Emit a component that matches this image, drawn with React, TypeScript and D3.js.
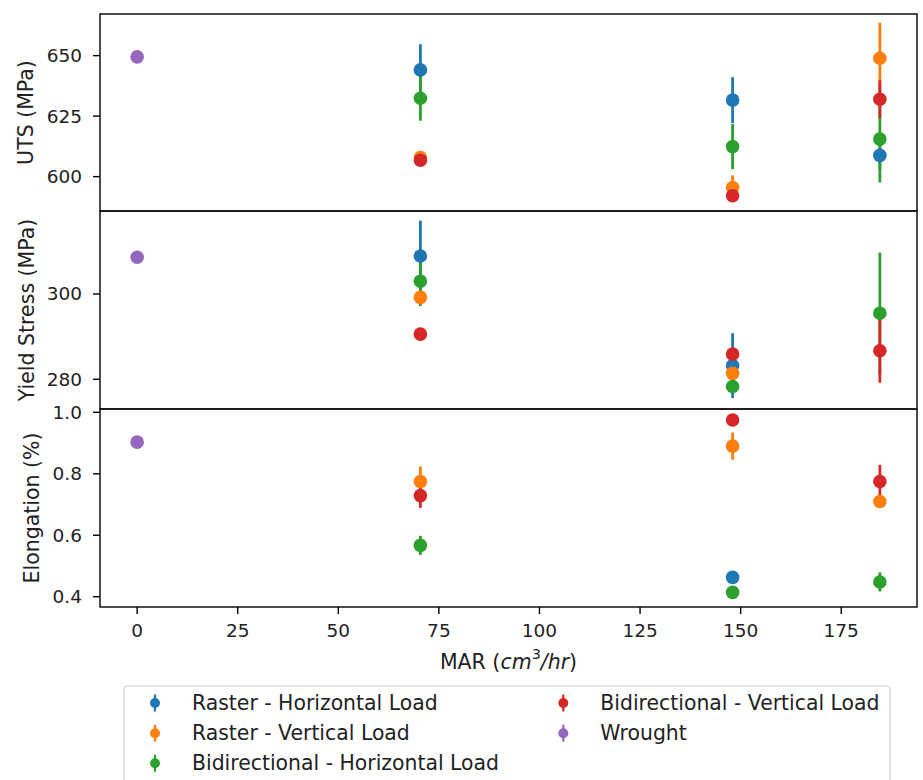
import React from 'react';
import * as d3 from 'd3';

// ---------- data ----------
const seriesNames = [
  'Raster - Horizontal Load',
  'Raster - Vertical Load',
  'Bidirectional - Horizontal Load',
  'Bidirectional - Vertical Load',
  'Wrought',
];
const seriesColors = ['#1f77b4', '#ff7f0e', '#2ca02c', '#d62728', '#9467bd'];

const marX = [70.4, 148, 184.6];
const wroughtX = [0];

// UTS (MPa)
const utsRH = [644.1, 631.6, 608.8];
const utsRHErr = [10.6, 9.5, 6];
const utsRV = [607.9, 595.5, 648.9];
const utsRVErr = [1, 5, 14.7];
const utsBH = [632.4, 612.4, 615.5];
const utsBHErr = [9.3, 9.3, 17.9];
const utsBV = [606.8, 592.1, 632.0];
const utsBVErr = [1, 1, 7.8];
const utsW = [649.5];

// Yield stress (MPa)
const ysRH = [308.9, 283.2, 0];
const ysRHErr = [8.3, 7.6, 0];
const ysRV = [299.2, 281.4, 0];
const ysRVErr = [0.8, 1, 0];
const ysBH = [303.0, 278.3, 295.5];
const ysBHErr = [5.8, 1.5, 14.2];
const ysBV = [290.6, 285.9, 286.7];
const ysBVErr = [0.5, 0.8, 7.5];
const ysW = [308.6];

// Elongation (%)
const elRH = [0, 0.463, 0];
const elRHErr = [0, 0.01, 0];
const elRV = [0.775, 0.890, 0.710];
const elRVErr = [0.049, 0.044, 0.01];
const elBH = [0.567, 0.414, 0.448];
const elBHErr = [0.031, 0.01, 0.031];
const elBV = [0.729, 0.975, 0.775];
const elBVErr = [0.04, 0.01, 0.054];
const elW = [0.903];

const xTicks = [0, 25, 50, 75, 100, 125, 150, 175];
const utsTicks = [600, 625, 650];
const ysTicks = [280, 300];
const elTicks = [0.4, 0.6, 0.8, 1.0];
const elTickLabels = ['0.4', '0.6', '0.8', '1.0'];

// ---------- layout ----------
const W = 923;
const H = 780;
const left = 100;
const right = 917;
const FONT = 'DejaVu Sans, sans-serif';
const TICK_FS = 18.5;
const LABEL_FS = 20.5;
const LEG_FS = 20.4;

type Pt = { x: number; y: number; e: number };
const pts = (xs: number[], ys: number[], es?: number[]): Pt[] =>
  xs.map((x, i) => ({ x, y: ys[i], e: es ? es[i] : 0 })).filter((p) => p.y !== 0);

const xScale = d3.scaleLinear().domain([-9.23, 193.83]).range([left, right]);

interface PanelDef {
  top: number;
  bottom: number;
  domain: [number, number];
  ticks: number[];
  tickLabels: string[];
  label: string;
  labelX: number;
  series: Pt[][];
}

const panels: PanelDef[] = [
  {
    top: 14,
    bottom: 211,
    domain: [585.8, 667.2],
    ticks: utsTicks,
    tickLabels: utsTicks.map(String),
    label: 'UTS (MPa)',
    labelX: 26,
    series: [
      pts(marX, utsRH, utsRHErr),
      pts(marX, utsRV, utsRVErr),
      pts(marX, utsBH, utsBHErr),
      pts(marX, utsBV, utsBVErr),
      pts(wroughtX, utsW),
    ],
  },
  {
    top: 211,
    bottom: 409,
    domain: [273.04, 319.45],
    ticks: ysTicks,
    tickLabels: ysTicks.map(String),
    label: 'Yield Stress (MPa)',
    labelX: 26.5,
    series: [
      pts(marX, ysRH, ysRHErr),
      pts(marX, ysRV, ysRVErr),
      pts(marX, ysBH, ysBHErr),
      pts(marX, ysBV, ysBVErr),
      pts(wroughtX, ysW),
    ],
  },
  {
    top: 409,
    bottom: 607,
    domain: [0.3665, 1.0108],
    ticks: elTicks,
    tickLabels: elTickLabels,
    label: 'Elongation (%)',
    labelX: 32,
    series: [
      pts(marX, elRH, elRHErr),
      pts(marX, elRV, elRVErr),
      pts(marX, elBH, elBHErr),
      pts(marX, elBV, elBVErr),
      pts(wroughtX, elW),
    ],
  },
];

function Panel({ p, idx }: { p: PanelDef; idx: number }) {
  const y = d3.scaleLinear().domain(p.domain).range([p.bottom, p.top]);
  const cy = (p.top + p.bottom) / 2;
  return (
    <g>
      <defs>
        <clipPath id={`clip${idx}`}>
          <rect x={left} y={p.top} width={right - left} height={p.bottom - p.top} />
        </clipPath>
      </defs>
      <g clipPath={`url(#clip${idx})`}>
        {p.series.map((s, si) =>
          s.map((d, di) =>
            d.e > 0 ? (
              <line
                key={`e${si}-${di}`}
                x1={xScale(d.x)}
                x2={xScale(d.x)}
                y1={y(d.y - d.e)}
                y2={y(d.y + d.e)}
                stroke={seriesColors[si]}
                strokeWidth={2.8}
              />
            ) : null
          )
        )}
        {p.series.map((s, si) =>
          s.map((d, di) => (
            <circle
              key={`m${si}-${di}`}
              cx={xScale(d.x)}
              cy={y(d.y)}
              r={6.8}
              fill={seriesColors[si]}
            />
          ))
        )}
      </g>
      {p.ticks.map((t, i) => (
        <g key={`t${i}`}>
          <line x1={left - 7} x2={left} y1={y(t)} y2={y(t)} stroke="#000" strokeWidth={1.4} />
          <text
            x={82}
            y={y(t)}
            textAnchor="end"
            dominantBaseline="central"
            fontFamily={FONT}
            fontSize={TICK_FS}
            fill="#222"
          >
            {p.tickLabels[i]}
          </text>
        </g>
      ))}
      <text
        transform={`translate(${p.labelX},${cy}) rotate(-90)`}
        textAnchor="middle"
        dominantBaseline="central"
        fontFamily={FONT}
        fontSize={LABEL_FS}
        fill="#222"
      >
        {p.label}
      </text>
      <rect
        x={left}
        y={p.top}
        width={right - left}
        height={p.bottom - p.top}
        fill="none"
        stroke="#111"
        strokeWidth={1.5}
      />
    </g>
  );
}

export default function App() {
  const legendCols = [
    [0, 1, 2],
    [3, 4],
  ];
  const colX = [155, 563.3];
  const rowY = [703, 733.3, 763.3];
  return (
    <svg
      width={W}
      height={H}
      style={{ position: 'absolute', left: 0, top: 0, background: '#fff' }}
    >
      <rect x={0} y={0} width={W} height={H} fill="#fff" />
      {panels.map((p, i) => (
        <Panel key={i} p={p} idx={i} />
      ))}
      {xTicks.map((t) => (
        <g key={t}>
          <line x1={xScale(t)} x2={xScale(t)} y1={607} y2={614} stroke="#000" strokeWidth={1.4} />
          <text
            x={xScale(t)}
            y={630}
            textAnchor="middle"
            dominantBaseline="central"
            fontFamily={FONT}
            fontSize={TICK_FS}
            fill="#222"
          >
            {t}
          </text>
        </g>
      ))}
      <text
        x={(left + right) / 2}
        y={662}
        textAnchor="middle"
        dominantBaseline="central"
        fontFamily={FONT}
        fontSize={LABEL_FS}
        fill="#222"
      >
        MAR (
        <tspan fontStyle="italic">cm</tspan>
        <tspan fontSize={LABEL_FS * 0.7} dy={-8}>
          3
        </tspan>
        <tspan fontStyle="italic" dy={8}>
          /hr
        </tspan>
        )
      </text>
      <rect
        x={124}
        y={686}
        width={766}
        height={110}
        rx={4}
        fill="#fff"
        stroke="#cccccc"
        strokeWidth={1.2}
      />
      {legendCols.map((col, ci) =>
        col.map((si, ri) => (
          <g key={`l${si}`}>
            <line
              x1={colX[ci]}
              x2={colX[ci]}
              y1={rowY[ri] - 8.5}
              y2={rowY[ri] + 8.5}
              stroke={seriesColors[si]}
              strokeWidth={2.2}
            />
            <circle cx={colX[ci]} cy={rowY[ri]} r={5} fill={seriesColors[si]} />
            <text
              x={colX[ci] + 37}
              y={rowY[ri]}
              dominantBaseline="central"
              fontFamily={FONT}
              fontSize={LEG_FS}
              fill="#222"
            >
              {seriesNames[si]}
            </text>
          </g>
        ))
      )}
    </svg>
  );
}
